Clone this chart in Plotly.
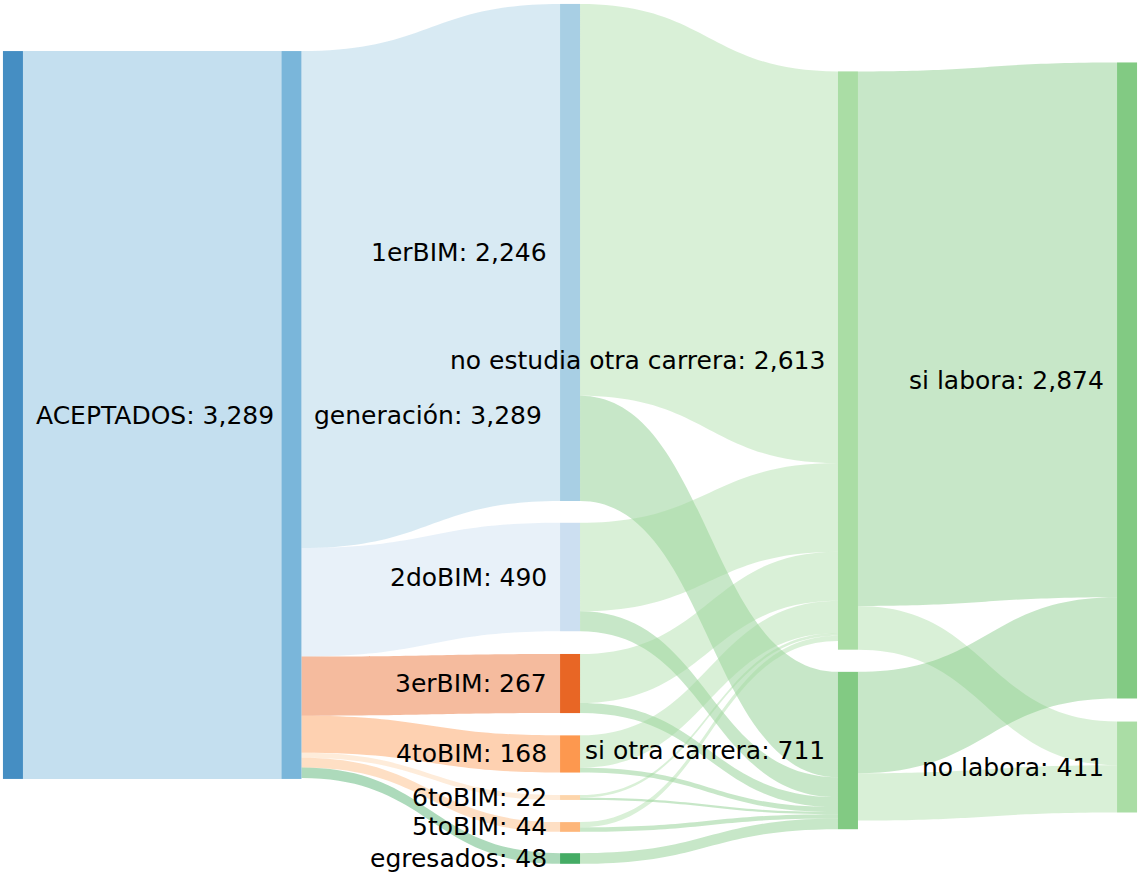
import plotly.graph_objects as go

# ---- data ----
node_names = ["ACEPTADOS", "generación", "1erBIM", "2doBIM", "3erBIM", "4toBIM",
              "5toBIM", "6toBIM", "egresados", "no estudia otra carrera",
              "si otra carrera", "si labora", "no labora"]

link_sources = [0,
                1, 1, 1, 1, 1, 1, 1,
                2, 2, 3, 3, 4, 4, 5, 5, 7, 7, 6, 6, 8,
                9, 9, 10, 10]
link_targets = [1,
                2, 3, 4, 5, 7, 6, 8,
                9, 10, 9, 10, 9, 10, 9, 10, 9, 10, 9, 10, 10,
                11, 12, 11, 12]
link_values = [3289,
               2246, 490, 267, 168, 22, 44, 48,
               1770, 476, 400, 90, 222, 45, 146, 22, 12, 10, 24, 20, 48,
               2416, 197, 458, 214]

# ---- style / layout ----
node_palette = ["#3182bd", "#6baed6", "#9ecae1", "#c6dbef", "#e6550d", "#fd8d3c",
                "#fdae6b", "#fdd0a2", "#31a354", "#a1d99b", "#74c476", "#74c476", "#a1d99b"]
col_x = [0.0079, 0.2537, 0.4996, 0.7449, 0.9912]
node_x = [col_x[0], col_x[1]] + [col_x[2]] * 7 + [col_x[3]] * 2 + [col_x[4]] * 2
node_y = [0.4773, 0.4773, 0.2881, 0.6659, 0.7899, 0.8719, 0.9569, 0.9226, 0.9936,
          0.4139, 0.8679, 0.4371, 0.8871]

W, H = 1138, 876
M = dict(l=4, r=1, t=5, b=12)
THICK = 20
LABEL_GAP = 12
FONT = dict(family="DejaVu Sans", size=25, color="black")


def rgba(hex_color, a):
    h = hex_color.lstrip("#")
    r, g, b = int(h[0:2], 16), int(h[2:4], 16), int(h[4:6], 16)
    return f"rgba({r},{g},{b},{a})"


# node value shown = max(inflow, outflow)
inflow = [0] * len(node_names)
outflow = [0] * len(node_names)
for s, t, v in zip(link_sources, link_targets, link_values):
    outflow[s] += v
    inflow[t] += v
node_vals = [max(i, o) for i, o in zip(inflow, outflow)]
labels = [f"{n}: {v:,}" for n, v in zip(node_names, node_vals)]

fig = go.Figure(go.Sankey(
    arrangement="fixed",
    valueformat=",",
    hoverinfo="none",
    node=dict(
        label=[""] * len(node_names),
        color=[rgba(c, 0.9) for c in node_palette],
        x=node_x,
        y=node_y,
        pad=22,
        thickness=THICK,
        line=dict(width=0),
        hoverinfo="none",
    ),
    link=dict(
        source=link_sources,
        target=link_targets,
        value=link_values,
        color=[rgba(node_palette[t], 0.4) for t in link_targets],
        hoverinfo="none",
    ),
))

# node labels: right of node in the first two columns, left of node otherwise
pw = W - M["l"] - M["r"]
ph = H - M["t"] - M["b"]
annotations = []
for lab, nx, ny in zip(labels, node_x, node_y):
    cx = nx * pw          # node centre, px inside plot area
    cy = ny * ph
    if nx < 0.45:
        ax, anchor = cx + THICK / 2 + LABEL_GAP, "left"
    else:
        ax, anchor = cx - THICK / 2 - LABEL_GAP, "right"
    annotations.append(dict(
        x=ax / pw, y=1 - cy / ph, xref="paper", yref="paper",
        text=lab, showarrow=False, xanchor=anchor, yanchor="middle",
        font=FONT, borderpad=0,
    ))

fig.update_layout(
    width=W, height=H,
    margin=M,
    paper_bgcolor="white",
    plot_bgcolor="white",
    annotations=annotations,
)

fig.write_html("out.html",
               config={"displayModeBar": False},
               post_script="document.body.style.margin='0px';document.body.style.overflow='hidden';")
